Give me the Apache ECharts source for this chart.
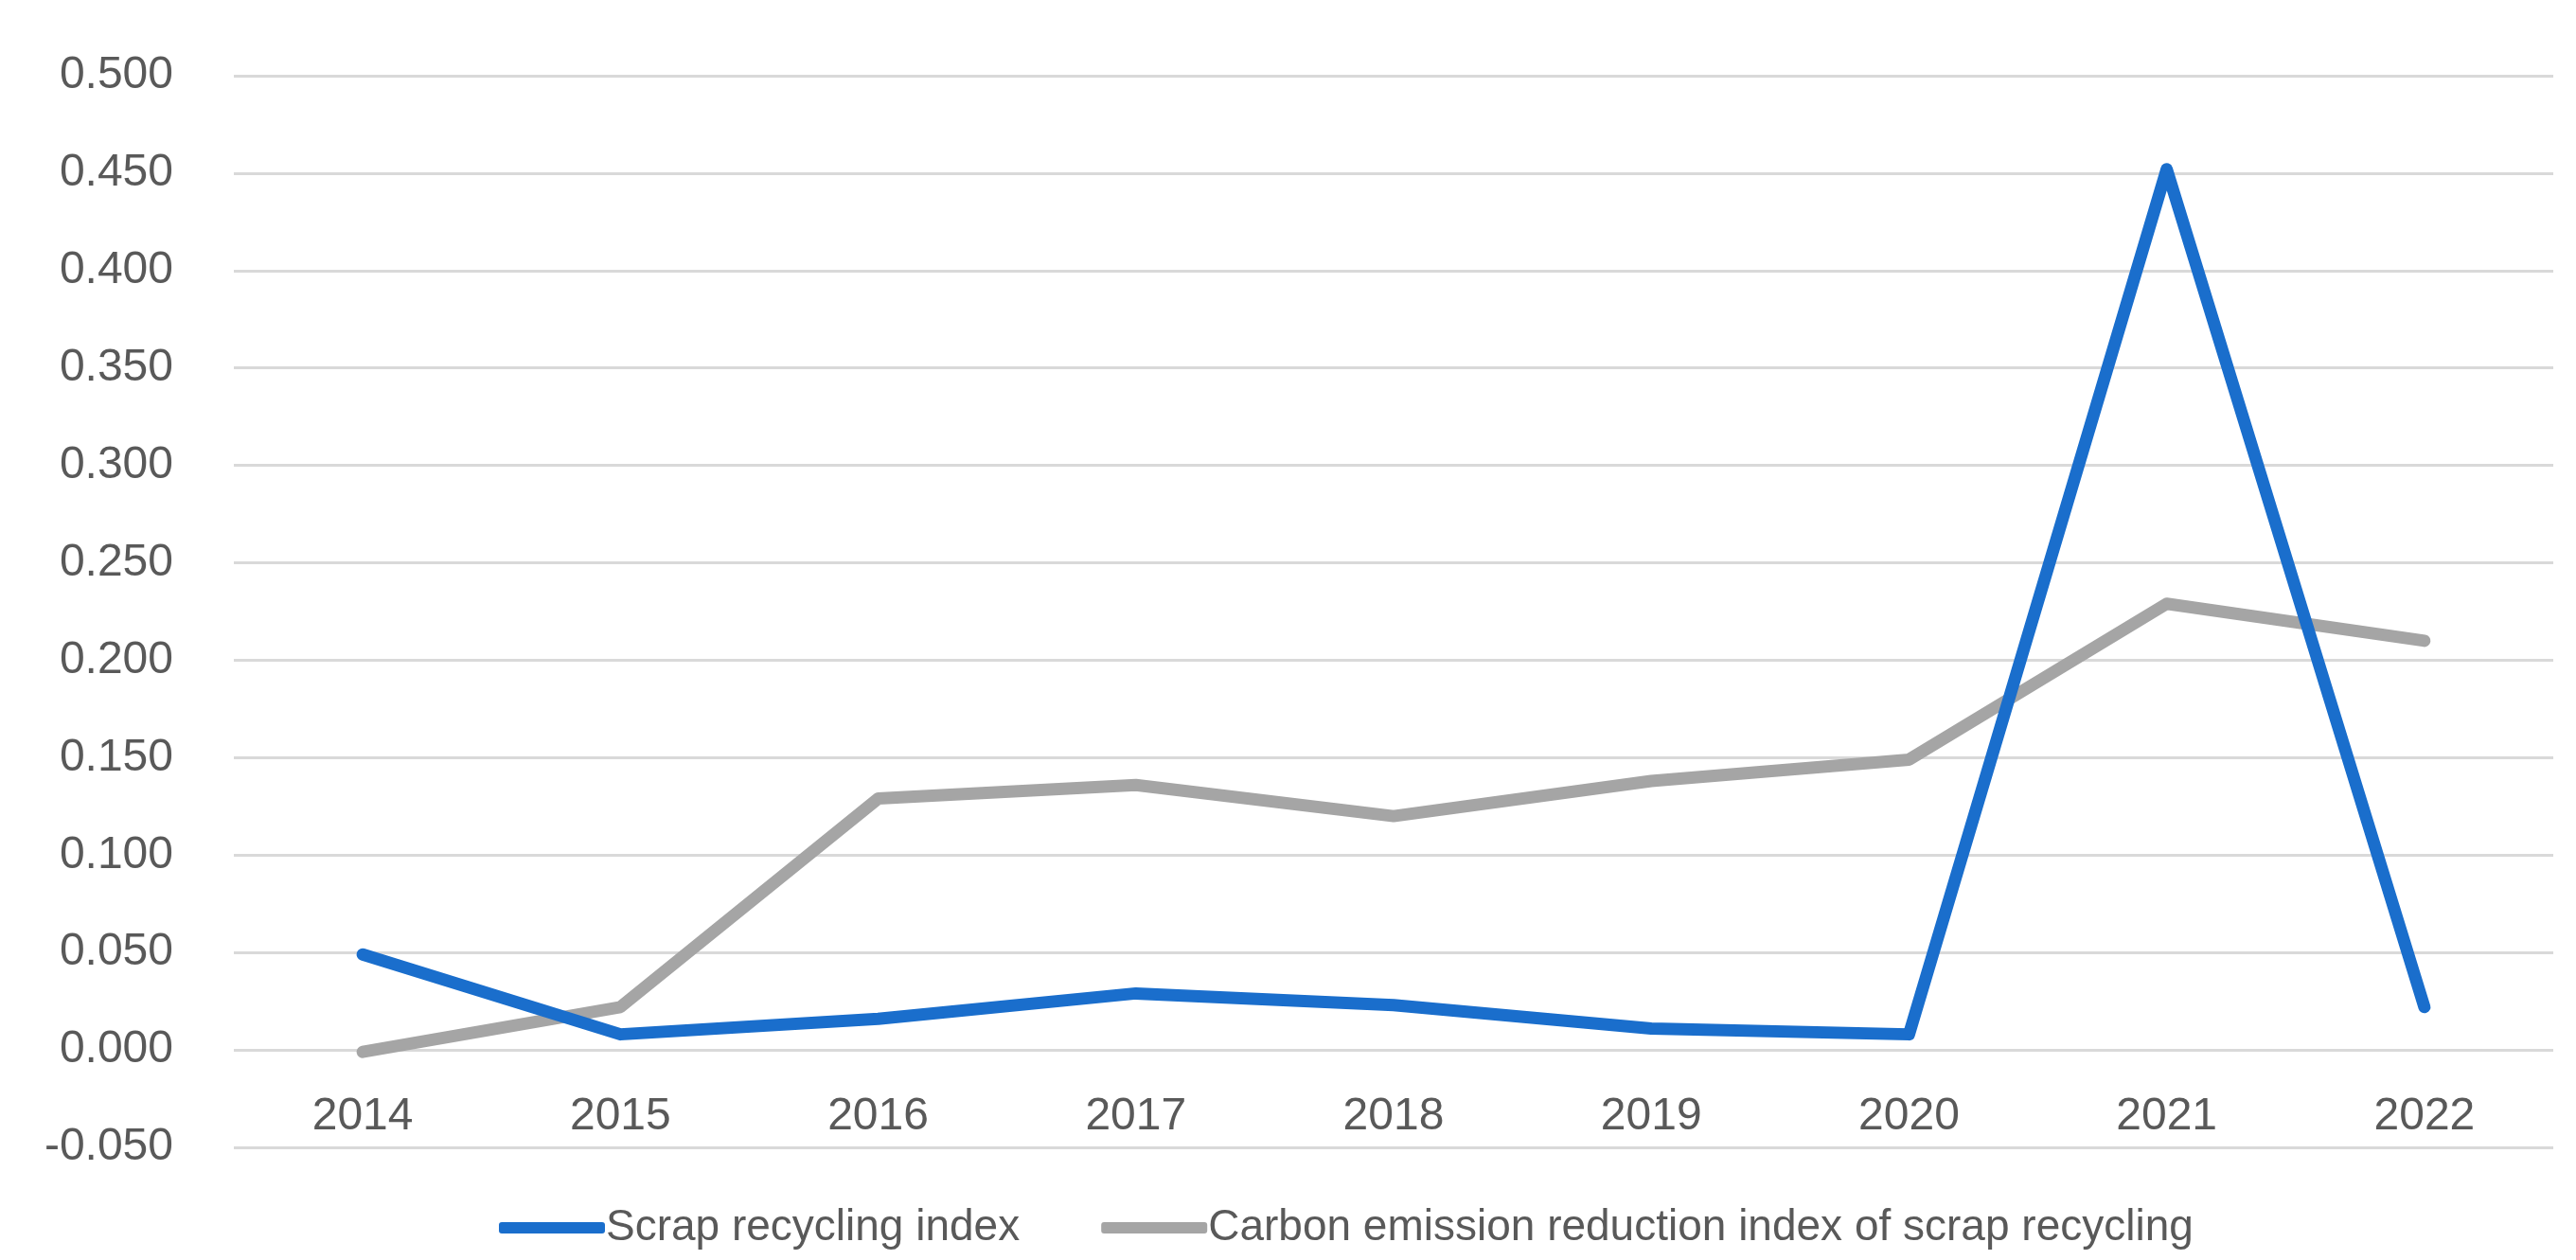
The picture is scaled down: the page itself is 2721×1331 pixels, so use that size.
<!DOCTYPE html>
<html>
<head>
<meta charset="utf-8">
<script src="https://cdn.jsdelivr.net/npm/echarts@6/dist/echarts.min.js"></script>
<style>
html,body{margin:0;padding:0;background:#ffffff;}
#chart{width:2721px;height:1331px;}
</style>
</head>
<body>
<div id="chart"></div>
<script>
const years = ['2014','2015','2016','2017','2018','2019','2020','2021','2022'];
const scrapRecyclingIndex = [0.049, 0.008, 0.016, 0.029, 0.023, 0.011, 0.008, 0.452, 0.022];
const carbonReductionIndex = [-0.001, 0.022, 0.129, 0.136, 0.120, 0.138, 0.149, 0.229, 0.210];
const seriesNames = ['Scrap recycling index', 'Carbon emission reduction index of scrap recycling'];

const chart = echarts.init(document.getElementById('chart'));
const font = 'Liberation Sans, Arial, sans-serif';
chart.setOption({
  animation: false,
  backgroundColor: '#ffffff',
  grid: { left: 247, right: 24, top: 80, bottom: 119, containLabel: false },
  legend: {
    bottom: 6,
    left: 522,
    itemGap: 86,
    itemWidth: 112,
    itemHeight: 12,
    icon: 'roundRect',
    textStyle: { fontFamily: font, fontSize: 46, color: '#595959', padding: [0,0,0,-4] },
    data: seriesNames
  },
  xAxis: {
    type: 'category',
    data: years,
    boundaryGap: true,
    axisLine: { show: false, onZero: false },
    axisTick: { show: false },
    axisLabel: { fontFamily: font, fontSize: 48, color: '#595959', margin: -56 }
  },
  yAxis: {
    type: 'value',
    min: -0.05,
    max: 0.5,
    interval: 0.05,
    axisLine: { show: false },
    axisTick: { show: false },
    splitLine: { lineStyle: { color: '#D9D9D9', width: 3 } },
    axisLabel: { fontFamily: font, fontSize: 48, color: '#595959', margin: 64,
      formatter: v => v.toFixed(3) }
  },
  series: [
    {
      name: seriesNames[0], type: 'line', data: scrapRecyclingIndex,
      symbol: 'none', color: '#1A6ECC',
      lineStyle: { width: 13, color: '#1A6ECC', cap: 'round', join: 'round' },
      z: 3
    },
    {
      name: seriesNames[1], type: 'line', data: carbonReductionIndex,
      symbol: 'none', color: '#A5A5A5',
      lineStyle: { width: 13, color: '#A5A5A5', cap: 'round', join: 'round' },
      z: 2
    }
  ]
});
</script>
</body>
</html>
